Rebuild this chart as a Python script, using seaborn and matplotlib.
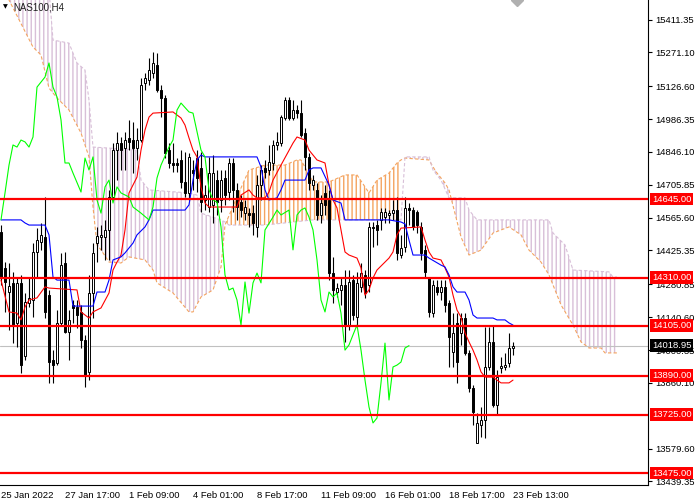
import numpy as np
import pandas as pd
import seaborn as sns
import matplotlib.pyplot as plt
import matplotlib.transforms as mtransforms
from matplotlib.patches import Polygon

# candles, NAS100 H4, one row per bar (bar 0 = 25 Jan 2022)
opens = [14504, 14351, 14248, 14287, 14116, 14287, 13975, 14201, 14214, 14419,
         14462, 14483, 14235, 13958, 13945, 14116, 14372, 14077, 14193, 14184,
         14163, 14043, 13907, 14244, 14457, 14483, 14483, 14513, 14654, 14854,
         14884, 14863, 14906, 14897, 14863, 14897, 15141, 15153, 15183, 15217,
         15111, 15077, 14854, 14799, 14799, 14812, 14718, 14671, 14769, 14820,
         14778, 14641, 14611, 14620, 14726, 14641, 14735, 14675, 14799, 14684,
         14632, 14585, 14585, 14585, 14526, 14705, 14778, 14769, 14799, 14876,
         14884, 14991, 15068, 14991, 15025, 15012, 14927, 14825, 14705, 14684,
         14577, 14671, 14641, 14329, 14248, 14257, 14278, 14107, 14299, 14141,
         14270, 14321, 14278, 14526, 14534, 14556, 14568, 14577, 14585, 14598,
         14406, 14440, 14607, 14598, 14590, 14526, 14427, 14308, 14158, 14270,
         14248, 14270, 14201, 13992, 14116, 14073, 14137, 13988, 13838, 13603,
         13680, 13702, 13928, 14035, 13766, 13924, 13928, 13945, 14009]
closes = [14312, 14291, 14274, 14107, 14287, 13936, 14205, 14223, 14419, 14470,
          14492, 14163, 13949, 13936, 14116, 14363, 14077, 14129, 14180, 14150,
          14043, 13894, 14244, 14415, 14487, 14492, 14513, 14654, 14854, 14884,
          14854, 14897, 14889, 14863, 14897, 15132, 15162, 15196, 15226, 15111,
          15077, 14842, 14799, 14790, 14790, 14718, 14671, 14825, 14756, 14735,
          14632, 14662, 14756, 14756, 14632, 14726, 14662, 14799, 14684, 14611,
          14598, 14611, 14577, 14543, 14705, 14769, 14761, 14803, 14876, 14889,
          14995, 15068, 14991, 15025, 15012, 14919, 14825, 14714, 14726, 14577,
          14628, 14620, 14329, 14257, 14265, 14278, 14107, 14291, 14150, 14287,
          14329, 14244, 14526, 14521, 14513, 14590, 14590, 14585, 14598, 14415,
          14436, 14607, 14598, 14526, 14534, 14415, 14334, 14163, 14278, 14248,
          14270, 14193, 14056, 14073, 13949, 14137, 13988, 13838, 13736, 13689,
          13702, 13928, 14035, 13766, 13885, 13932, 13936, 14009, 14018.95]
highs = [14534, 14376, 14372, 14334, 14308, 14321, 14244, 14312, 14457, 14521,
         14543, 14654, 14257, 14000, 14171, 14415, 14419, 14171, 14214, 14214,
         14193, 14065, 14321, 14457, 14526, 14534, 14556, 14684, 14884, 14931,
         14910, 14931, 14983, 14974, 14948, 15162, 15183, 15247, 15273, 15269,
         15132, 15089, 14884, 14884, 14820, 14854, 14846, 14842, 14812, 14854,
         14846, 14705, 14825, 14833, 14769, 14769, 14769, 14820, 14820, 14714,
         14662, 14641, 14607, 14620, 14748, 14790, 14812, 14876, 14897, 14931,
         15004, 15081, 15081, 15068, 15047, 15068, 14948, 14842, 14748, 14714,
         14662, 14705, 14684, 14398, 14287, 14308, 14342, 14342, 14321, 14334,
         14372, 14342, 14547, 14547, 14556, 14607, 14607, 14598, 14641, 14654,
         14492, 14654, 14628, 14611, 14598, 14547, 14449, 14312, 14299, 14299,
         14299, 14299, 14214, 14158, 14158, 14158, 14158, 14000, 13851, 13731,
         13757, 14099, 14099, 14107, 13915, 13971, 13988, 14073, 14035]
lows = [14278, 14163, 14086, 14030, 14013, 13902, 13958, 14184, 14141, 14312,
        14427, 14137, 13860, 13860, 13936, 14107, 14073, 13958, 14116, 14094,
        14009, 13843, 13872, 14137, 14376, 14427, 14385, 14385, 14641, 14726,
        14769, 14769, 14854, 14756, 14812, 14889, 15111, 15132, 15162, 15102,
        14995, 14820, 14778, 14761, 14761, 14692, 14654, 14641, 14684, 14675,
        14590, 14598, 14590, 14543, 14577, 14590, 14620, 14641, 14590, 14556,
        14568, 14556, 14526, 14492, 14483, 14641, 14735, 14748, 14769, 14854,
        14872, 14983, 14983, 14983, 14991, 14910, 14769, 14684, 14684, 14556,
        14543, 14577, 14299, 14201, 14227, 14193, 14035, 14086, 14129, 14107,
        14248, 14223, 14248, 14440, 14449, 14513, 14543, 14543, 14556, 14385,
        14393, 14419, 14534, 14513, 14500, 14385, 14312, 14141, 14141, 14235,
        14214, 14163, 13928, 13928, 13860, 14022, 13979, 13821, 13680, 13603,
        13629, 13625, 13915, 13757, 13723, 13902, 13915, 13928, 13979]

# Ichimoku lines, read at their corners (bar index, price)
tenkan_bar = [0, 2, 4, 5, 6, 7, 9, 11, 12, 19, 20, 22, 23, 25, 27, 28, 29, 30, 31, 32,
              34, 35, 36, 37, 38, 43, 44, 45, 46, 47, 48, 49, 50, 51, 52, 59, 60, 62, 63, 64,
              66, 67, 68, 70, 73, 74, 76, 77, 79, 81, 82, 83, 84, 85, 86, 87, 89, 90, 91, 92,
              93, 94, 96, 97, 98, 99, 100, 105, 106, 107, 108, 110, 111, 112, 113, 114, 115,
              116, 117, 118, 119, 120, 121, 123, 124, 125, 127, 128]
tenkan_val = [14299, 14163, 14158, 14129, 14184, 14214, 14223, 14270, 14265, 14257,
              14163, 14137, 14163, 14180, 14244, 14342, 14376, 14406, 14513, 14671,
              14739, 14854, 14940, 14995, 15012, 15017, 15004, 14991, 14961, 14906,
              14854, 14825, 14696, 14628, 14611, 14611, 14662, 14684, 14662, 14650,
              14650, 14675, 14726, 14790, 14884, 14910, 14897, 14854, 14812, 14799,
              14705, 14641, 14607, 14513, 14419, 14406, 14393, 14351, 14235, 14257,
              14308, 14342, 14376, 14393, 14419, 14492, 14521, 14526, 14470, 14419,
              14393, 14385, 14351, 14312, 14235, 14171, 14141, 14073, 14035, 14000,
              13958, 13907, 13885, 13885, 13872, 13860, 13860, 13872]
kijun_bar = [0, 5, 6, 7, 11, 12, 13, 14, 17, 18, 23, 24, 26, 27, 28, 30, 31, 33, 34, 36,
             37, 38, 46, 47, 48, 49, 50, 51, 64, 65, 66, 67, 69, 70, 71, 76, 77, 78, 80, 82,
             83, 85, 86, 97, 100, 101, 102, 103, 106, 107, 110, 111, 112, 113, 114, 116,
             117, 118, 119, 123, 124, 126, 127, 128]
kijun_val = [14556, 14556, 14543, 14534, 14534, 14492, 14312, 14299, 14299, 14188,
             14188, 14248, 14248, 14299, 14385, 14398, 14415, 14457, 14492, 14526,
             14556, 14598, 14598, 14620, 14726, 14812, 14833, 14825, 14825, 14782,
             14684, 14641, 14650, 14684, 14726, 14726, 14769, 14778, 14778, 14705,
             14641, 14628, 14556, 14556, 14547, 14539, 14470, 14406, 14406, 14393,
             14363, 14355, 14321, 14270, 14248, 14248, 14214, 14150, 14137, 14137,
             14129, 14129, 14116, 14107]
chikou_bar = [0, 1, 2, 3, 4, 5, 6, 7, 8, 9, 11, 12, 13, 14, 15, 16, 17, 18, 20, 21,
              22, 23, 24, 25, 26, 27, 28, 29, 30, 32, 33, 35, 37, 38, 39, 40, 42, 43, 44, 45,
              47, 48, 50, 51, 52, 53, 54, 55, 56, 57, 58, 59, 60, 61, 62, 63, 64, 65, 66, 68,
              69, 70, 72, 73, 74, 75, 76, 77, 78, 79, 80, 81, 82, 83, 84, 85, 86, 87, 88, 89,
              90, 91, 92, 93, 94, 95, 96, 97, 98, 99, 100, 101, 102]
chikou_val = [14556, 14671, 14790, 14876, 14867, 14897, 14889, 14867, 14910, 15123,
              15166, 15226, 15123, 15081, 14983, 14799, 14799, 14756, 14675, 14820,
              14769, 14825, 14641, 14585, 14697, 14726, 14628, 14697, 14671, 14654,
              14611, 14585, 14556, 14611, 14735, 14790, 14867, 14897, 15025, 15055,
              15017, 15012, 14854, 14825, 14684, 14641, 14632, 14526, 14321, 14257,
              14265, 14214, 14107, 14291, 14158, 14287, 14329, 14287, 14513, 14568,
              14598, 14577, 14598, 14428, 14577, 14598, 14607, 14568, 14513, 14385,
              14214, 14163, 14248, 14227, 14244, 14158, 14000, 14022, 14065, 14107,
              14000, 13872, 13757, 13689, 13710, 13860, 14030, 13787, 13928, 13936,
              13949, 14009, 14018.95]
span_a_bar = [0, 2, 8, 10, 12, 14, 17, 20, 22, 23, 24, 25, 27, 30, 32, 36, 38, 39, 43, 47,
              48, 50, 53, 55, 56, 59, 62, 66, 71, 74, 75, 78, 82, 86, 89, 91, 92, 94, 97, 99,
              100, 101, 107, 108, 109, 111, 112, 115, 117, 120, 123, 127, 130, 132, 135, 137,
              140, 143, 145, 147, 150, 151, 154]
span_a_val = [15559, 15495, 15294, 15260, 15119, 15077, 15025, 14927, 14825, 14611,
              14449, 14428, 14376, 14372, 14398, 14385, 14342, 14287, 14244, 14163,
              14163, 14227, 14257, 14355, 14534, 14654, 14769, 14790, 14790, 14812,
              14812, 14718, 14718, 14748, 14748, 14697, 14671, 14726, 14756, 14799,
              14812, 14820, 14812, 14782, 14756, 14714, 14684, 14483, 14406, 14427,
              14500, 14526, 14492, 14427, 14376, 14321, 14193, 14107, 14035, 14009,
              14009, 13988, 13988]
span_b_bar = [0, 12, 13, 17, 19, 21, 22, 23, 34, 35, 37, 47, 49, 50, 55, 56, 57, 66, 78,
              100, 101, 107, 108, 110, 112, 116, 117, 119, 137, 138, 141, 143, 152, 153, 154]
span_b_val = [15538, 15538, 15324, 15311, 15226, 15196, 15068, 14867, 14855, 14726,
              14684, 14671, 14662, 14585, 14556, 14547, 14534, 14534, 14556,
              14556, 14825, 14825, 14769, 14726, 14650, 14650, 14598, 14556, 14556,
              14500, 14449, 14342, 14334, 14312, 14312]

levels = [14645.00, 14310.00, 14105.00, 13890.00, 13725.00, 13475.00]
bid = 14018.95
# 13719.85 sits fully under the 13725.00 box in the terminal, so it is left out
price_ticks = [15411.35, 15271.10, 15126.60, 14986.35, 14846.10, 14705.85, 14565.60,
               14425.35, 14280.85, 14140.60, 14000.35, 13860.10, 13579.60, 13439.35]
time_ticks = [0, 16, 32, 48, 64, 80, 96, 112, 128]
time_labels = ["25 Jan 2022", "27 Jan 17:00", "1 Feb 09:00", "4 Feb 01:00", "8 Feb 17:00",
               "11 Feb 09:00", "16 Feb 01:00", "18 Feb 17:00", "23 Feb 13:00"]

sns.set_style("white")
plt.rcParams["font.family"] = ["Liberation Sans", "DejaVu Sans"]
plt.rcParams["hatch.linewidth"] = 1.0

df = pd.DataFrame({"open": opens, "high": highs, "low": lows, "close": closes})
df["bar"] = np.arange(len(df))
df["bull"] = df["close"] >= df["open"]

fig = plt.figure(figsize=(7, 5), dpi=100)
ax = fig.add_axes([0, 0.03, 648 / 700, 0.97])
ax.set_xlim(-0.25, 161.75)
ax.set_ylim(13424, 15495)

# cloud
a_bar, a_val = np.array(span_a_bar), np.array(span_a_val)
b_bar, b_val = np.array(span_b_bar), np.array(span_b_val)
pink, sand = "#d8bfd8", "#f4a460"
for s, e, col in [(0, 56, pink), (56, 100, sand), (101, 154, pink)]:
    ma = (a_bar >= s) & (a_bar <= e)
    mb = (b_bar >= s) & (b_bar <= e)
    pts = list(zip(a_bar[ma], a_val[ma])) + list(zip(b_bar[mb], b_val[mb]))[::-1]
    ax.add_patch(Polygon(pts, closed=True, facecolor="none", edgecolor=col,
                         hatch="||||", linewidth=0, zorder=1))
ax.plot(a_bar, a_val, color=sand, lw=0.8, ls=(0, (3, 2)), zorder=1.2)
ax.plot(b_bar, b_val, color=pink, lw=0.8, ls=(0, (3, 2)), zorder=1.2)

ax.axhline(bid, color="#c0c0c0", lw=0.8, zorder=1.5)

# candles
ax.vlines(df["bar"], df["low"], df["high"], color="black", lw=0.8, zorder=2)
body_low = df[["open", "close"]].min(axis=1)
body_h = (df["close"] - df["open"]).abs().clip(lower=4)
ax.bar(df["bar"], body_h, bottom=body_low, width=0.55,
       color=np.where(df["bull"], "white", "black"), edgecolor="black",
       linewidth=0.7, zorder=2.5)

sns.lineplot(x=tenkan_bar, y=tenkan_val, color="#ff0000", lw=0.8, ax=ax,
             estimator=None, sort=False, zorder=3)
sns.lineplot(x=kijun_bar, y=kijun_val, color="#0000ff", lw=0.8, ax=ax,
             estimator=None, sort=False, zorder=3)
sns.lineplot(x=chikou_bar, y=chikou_val, color="#00ff00", lw=0.8, ax=ax,
             estimator=None, sort=False, zorder=3)

for lv in levels:
    ax.axhline(lv, color="#ff0000", lw=1.6, zorder=4)

# axes / labels like the terminal
for side in ["top", "left"]:
    ax.spines[side].set_visible(False)
for side in ["bottom", "right"]:
    ax.spines[side].set_color("black")
    ax.spines[side].set_linewidth(0.8)
ax.yaxis.tick_right()
ax.set_yticks(price_ticks)
ax.set_yticklabels([f"{p:.2f}" for p in price_ticks])
ax.set_xticks(time_ticks)
ax.set_xticklabels(time_labels, ha="left")
ax.tick_params(axis="both", direction="out", length=3, width=0.8, color="black",
               labelsize=6.8, pad=1.5, labelcolor="black")
ax.tick_params(axis="y", pad=2)
ax.set_xlabel("")
ax.set_ylabel("")

trans = mtransforms.blended_transform_factory(ax.transAxes, ax.transData)
for lv in levels:
    ax.text(1.006, lv, f"{lv:.2f}", transform=trans, color="white", fontsize=6.8,
            va="center", ha="left", zorder=6, clip_on=False,
            bbox=dict(boxstyle="square,pad=0.2", fc="#ff0000", ec="none"))
ax.text(1.006, bid, f"{bid:.2f}", transform=trans, color="white", fontsize=6.8,
        va="center", ha="left", zorder=6, clip_on=False,
        bbox=dict(boxstyle="square,pad=0.2", fc="black", ec="none"))

ax.text(0.004, 0.992, "\u25bc", transform=ax.transAxes, fontsize=4.5, va="top",
        ha="left", color="black", family="DejaVu Sans")
ax.text(0.021, 0.995, "NAS100,H4", transform=ax.transAxes, fontsize=7, va="top",
        ha="left", color="#202020")
ax.plot([129], [15495], marker="D", markersize=6, color="#b0b0b0", clip_on=True,
        zorder=5)

fig.savefig("out.png", dpi=100)
